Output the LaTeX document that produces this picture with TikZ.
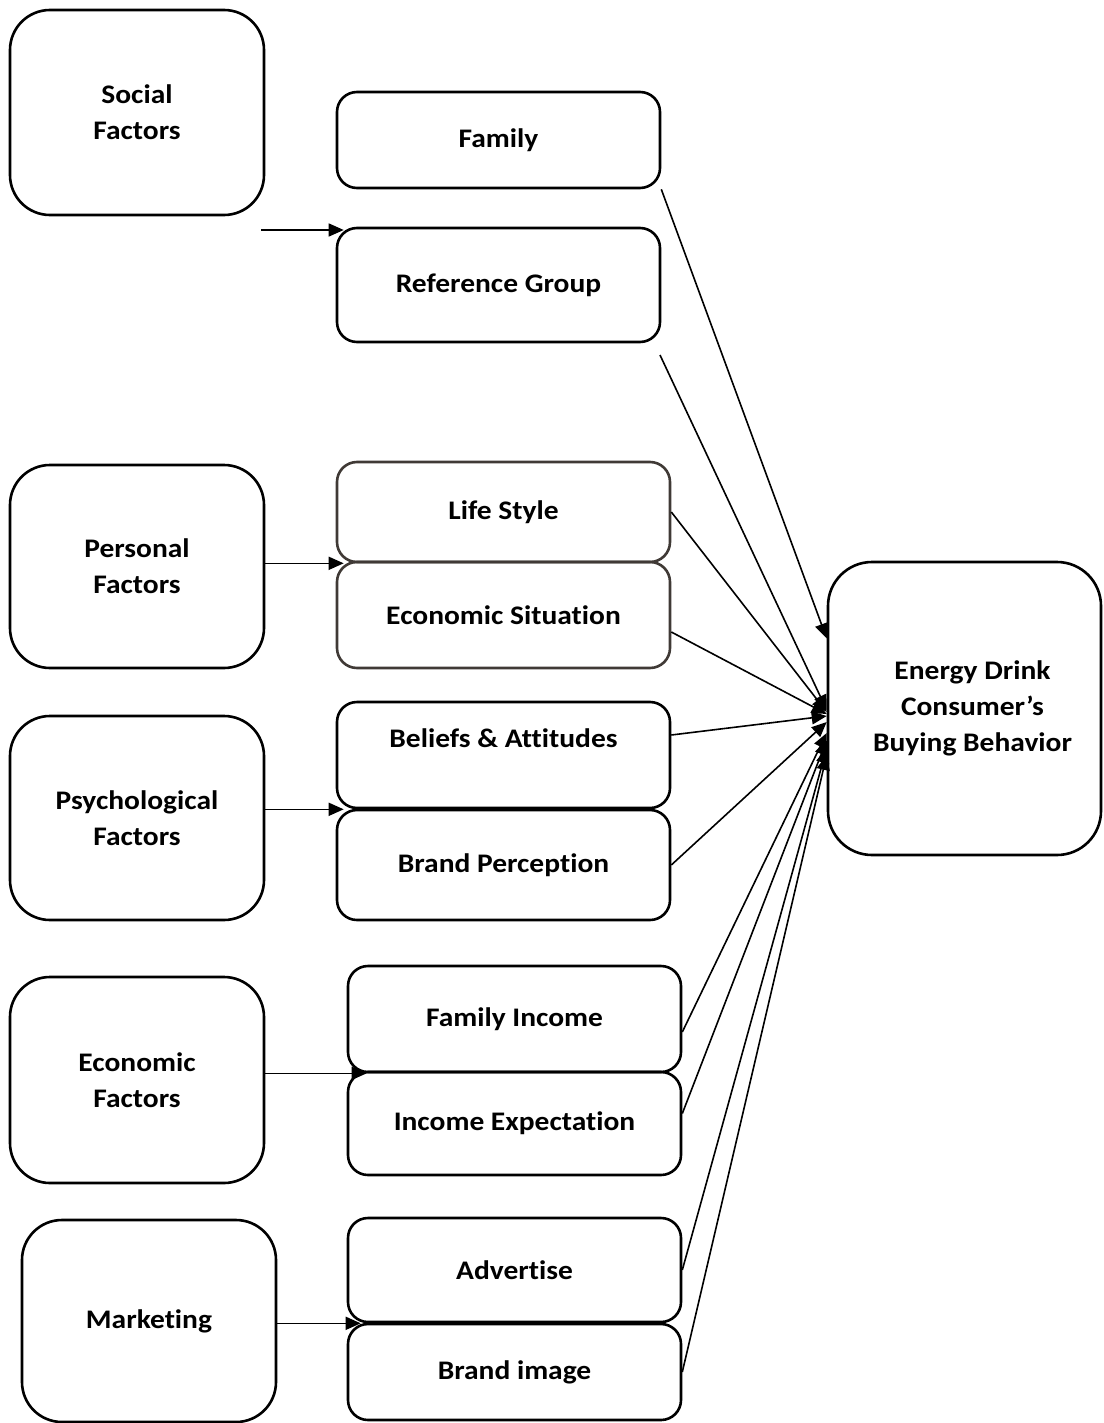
\documentclass[tikz,border=0pt]{standalone}
\usepackage{fontspec}
\setmainfont{Carlito}[FakeStretch=1.1, Ligatures=NoCommon]
\usepackage{tikz}
\usetikzlibrary{arrows.meta}
\definecolor{boxgray}{RGB}{64,58,54}

\tikzset{
  boxtext/.style={font=\bfseries\fontsize{13.4}{18}\selectfont, align=center, inner sep=0pt},
  factorbox/.style={boxtext, draw, line width=1.3pt, rounded corners=20pt,
    minimum width=127pt},
  itembox/.style={boxtext, draw, line width=1.3pt, rounded corners=10pt},
  arr/.style={-{Triangle[length=7.5pt,width=6.5pt]}, line width=0.8pt}
}

\begin{document}
\begin{tikzpicture}[x=0.5pt, y=-0.5pt]
  \useasboundingbox (0,0) rectangle (1103,1423);

  % factor groups on the left
  \node[factorbox, minimum height=102.5pt] (social) at (137,112.5) {Social\\Factors};
  \node[factorbox, minimum height=101.5pt] (personal) at (137,566.5) {Personal\\Factors};
  \node[factorbox, minimum height=102pt] (psych) at (137,818) {Psychological\\Factors};
  \node[factorbox, minimum height=103pt] (econ) at (137,1080) {Economic\\Factors};
  \node[factorbox, minimum height=101pt] (mkt) at (149,1321) {Marketing};

  % sub-factors
  \node[itembox, minimum width=161.5pt, minimum height=48pt] (family) at (498.5,140) {Family};
  \node[itembox, minimum width=161.5pt, minimum height=57pt] (refgrp) at (498.5,285) {Reference Group};
  \node[itembox, draw=boxgray, minimum width=166.5pt, minimum height=50pt] (life) at (503.5,512) {Life Style};
  \node[itembox, draw=boxgray, minimum width=166.5pt, minimum height=53pt] (ecosit) at (503.5,615) {Economic Situation};
  \node[itembox, minimum width=166.5pt, minimum height=53pt, text depth=17pt] (belief) at (503.5,755) {Beliefs \& Attitudes};
  \node[itembox, minimum width=166.5pt, minimum height=55pt] (brandperc) at (503.5,865) {Brand Perception};
  \node[itembox, minimum width=166.5pt, minimum height=53pt] (faminc) at (514.5,1019) {Family Income};
  \node[itembox, minimum width=166.5pt, minimum height=51.5pt] (incexp) at (514.5,1123.5) {Income Expectation};
  \node[itembox, minimum width=166.5pt, minimum height=52pt] (advert) at (514.5,1270) {Advertise};
  \node[itembox, minimum width=166.5pt, minimum height=48pt] (brandimg) at (514.5,1372) {Brand image};

  % outcome
  \node[itembox, rounded corners=22pt, minimum width=136.5pt, minimum height=146.5pt] (target) at (964.5,708.5)
    {\hspace*{8pt}Energy Drink\\\hspace*{8pt}Consumer’s\\\hspace*{8pt}Buying Behavior};

  \coordinate (socout) at (261,230);
  \coordinate (refout) at (660,355);

  % groups to sub-factors
  \draw[arr, shorten >=-4pt] (socout) -- (socout -| refgrp.west);
  \draw[arr, shorten >=-4pt] (personal.east |- life.south) -- (life.south west);
  \draw[arr, shorten >=-4pt] (psych.east |- belief.south) -- (belief.south west);
  \draw[arr, shorten >=-10pt] (econ.east |- faminc.south) -- (faminc.south west);
  \draw[arr, shorten >=-7pt] (mkt.east |- advert.south) -- (advert.south west);

  % sub-factors to behaviour
  \draw[arr] (family.south east) -- ([yshift=35pt]target.west);
  \draw[arr] (refout) -- ([yshift=-0.75pt]target.west);
  \draw[arr] (life.east) -- ([yshift=-1.75pt]target.west);
  \draw[arr] ([yshift=-8.5pt]ecosit.east) -- ([yshift=-2.75pt]target.west);
  \draw[arr] ([yshift=10pt]belief.east) -- ([yshift=-3.75pt]target.west);
  \draw[arr] (brandperc.east) -- ([yshift=-6.75pt]target.west);
  \draw[arr] ([yshift=-6.5pt]faminc.east) -- ([yshift=-12.25pt]target.west);
  \draw[arr] ([yshift=5pt]incexp.east) -- ([yshift=-15.75pt]target.west);
  \draw[arr] (advert.east) -- ([yshift=-19.75pt]target.west);
  \draw[arr] (brandimg.east) -- ([yshift=-23.25pt]target.west);
\end{tikzpicture}
\end{document}
